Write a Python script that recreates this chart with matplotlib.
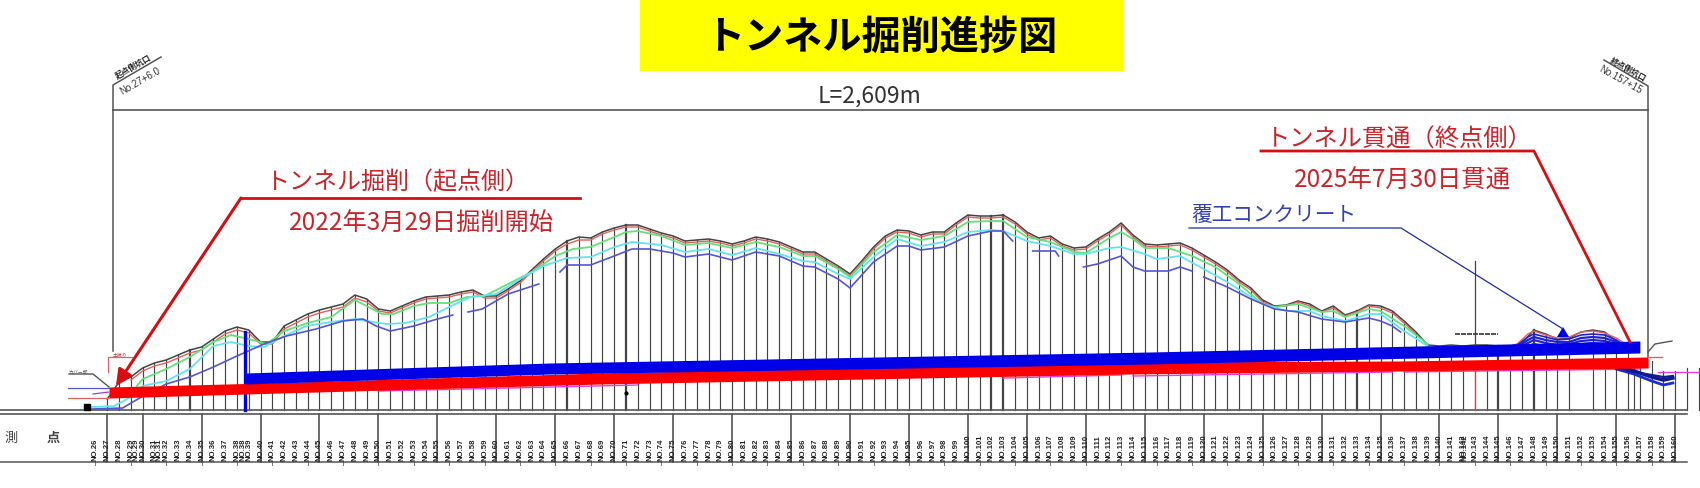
#!/usr/bin/env python3
"""Tunnel excavation progress drawing (long section with station labels)."""

import matplotlib
matplotlib.use("Agg")
import matplotlib.pyplot as plt
from matplotlib.patches import Polygon, Rectangle

plt.rcParams['font.family'] = ['Noto Sans CJK JP', 'DejaVu Sans']

W, H = 1700, 489
# station axis: NO.90 sits at 850 px, one station is 11.79 px
ST_LEFT, ST_RIGHT = 17.9, 162.1

TITLE = "トンネル掘削進捗図"
LENGTH_LABEL = "L=2,609m"
START_TITLE = "トンネル掘削（起点側）"
START_DATE = "2022年3月29日掘削開始"
END_TITLE = "トンネル貫通（終点側）"
END_DATE = "2025年7月30日貫通"
LINING_LABEL = "覆工コンクリート"

# ground surface, one row per station
GROUND_ST = list(range(27, 157))
GROUND = [400, 383, 378, 369, 364, 361, 356, 351, 348, 340, 332, 328, 331, 343,
          343, 327, 321, 315, 311, 308, 305, 296, 300, 310, 312, 307, 302, 298,
          297, 296, 293, 291, 297, 297, 290, 282, 271, 260, 250, 242, 238, 239,
          233, 229, 226, 226, 230, 234, 237, 242, 241, 240, 242, 245, 242, 238,
          240, 243, 248, 253, 253, 260, 267, 275, 262, 248, 237, 231, 232, 236,
          233, 233, 224, 216, 217, 217, 216, 223, 233, 239, 237, 245, 249, 248,
          240, 233, 224, 236, 245, 246, 245, 244, 249, 256, 263, 271, 281, 289,
          301, 307, 306, 302, 305, 312, 307, 316, 312, 306, 307, 312, 322, 333,
          346, 347, 346, 347, 346, 346, 347, 347, 344, 331, 335, 340, 339, 333,
          331, 333, 342, 346]

RED_ST = list(range(29, 139))
RED = [381, 372, 367, 364, 359, 354, 351, 343, 335, 331, 334, 345, 345, 330, 324,
       318, 314, 311, 308, 299, 303, 312, 314, 309, 304, 300, 299, 298, 295, 293,
       299, 299, 292, 284, 273, 262, 252, 245, 241, 241, 235, 231, 228, 228, 232,
       236, 239, 244, 243, 242, 244, 247, 244, 240, 242, 245, 250, 255, 255, 262,
       269, 277, 264, 250, 239, 233, 234, 238, 235, 235, 226, 218, 219, 219, 218,
       225, 235, 241, 239, 247, 251, 250, 242, 235, 226, 238, 247, 248, 247, 246,
       251, 258, 265, 273, 283, 291, 303, 308, 307, 303, 307, 313, 309, 317, 313,
       307, 309, 314, 324, 335]

GREEN_ST = [29.5, 30, 32, 34, 36, 37.5, 39, 40.5, 42, 44, 46, 48, 49, 50.3, 51.3, 53,
            54.3, 56, 57.5, 59, 61, 63, 65, 66.5, 68, 70, 71, 72, 74, 76, 78, 80, 82,
            84, 86, 87, 89, 90, 92, 94, 96, 98, 100, 102, 103, 105, 107, 109, 110,
            112, 113, 114, 115, 117, 119, 121, 123, 125, 126, 128, 130, 131, 132,
            134, 135, 137, 139]
GREEN = [387, 380, 370, 358, 343, 336, 340, 345, 332, 324, 318, 301, 307, 315, 315, 307,
         304, 304, 298, 297, 285, 273, 257, 250, 248, 238, 233, 232, 237, 246, 244, 249,
         243, 248, 257, 257, 270, 278, 253, 236, 241, 237, 223, 222, 222, 238, 243, 253,
         254, 239, 233, 240, 249, 249, 257, 268, 285, 305, 308, 305, 313, 312, 318,
         310, 312, 327, 345]

CYAN_ST = [25.7, 27.6, 29, 30, 32, 34, 36, 37.5, 39, 40.3, 42, 43.9, 46, 48, 49, 50.7,
           52.3, 54.3, 56, 57.8, 60, 62, 64, 66, 68, 70, 71.5, 74, 76, 78, 80, 82, 84,
           86, 87, 89, 90, 92, 94, 96, 98, 100, 102, 103, 105, 107, 109, 110, 112,
           113, 115, 116, 118, 120, 122, 124, 125, 127, 129, 130, 132, 134, 135, 137,
           139]
CYAN = [408, 407, 398, 387, 382, 370, 347, 343, 347, 348, 337, 327, 323, 320, 322, 325,
        324, 318, 308, 298, 295, 280, 267, 259, 258, 248, 243, 246, 253, 250, 256, 249,
        255, 262, 263, 275, 280, 258, 240, 247, 243, 233, 231, 232, 242, 247, 255, 255,
        249, 248, 255, 260, 257, 270, 283, 298, 305, 312, 312, 317, 322, 315, 315,
        332, 347]

# the lower contour is broken into separate pieces
PURPLE_SEGMENTS = [
    ([25.7, 28.3, 29.6, 32, 34, 36, 38, 40.3, 42.2, 44.7, 47, 48.7, 49.8, 51, 53, 55, 56.3],
     [410, 409, 400, 385, 378, 368, 357, 345, 337, 330, 322, 320, 327, 332, 327, 320, 316]),
    ([57.6, 58.8, 61, 63.6],
     [313, 310, 295, 285]),
    ([65.4, 66, 68, 70, 71.5, 73, 75, 76, 78, 80, 82, 84, 86, 87, 89, 90, 92, 94, 95, 96,
      98, 100, 102, 103, 103.8],
     [273, 266, 266, 257, 250, 250, 254, 258, 255, 261, 253, 257, 267, 268, 280, 289, 263,
      247, 247, 251, 248, 237, 232, 232, 242]),
    ([105.5, 107.4, 107.7],
     [252, 252, 257]),
    ([109.8, 111, 113, 114, 115, 117, 118, 119],
     [268, 265, 257, 268, 272, 272, 268, 272]),
    ([120, 122, 124, 126, 128, 130, 132, 134, 135, 136, 136.7],
     [278, 288, 300, 310, 313, 320, 323, 319, 322, 327, 333]),
]

# hill contours near the end portal
HILL_ST = [146.5, 147.5, 148, 149, 150, 151, 152, 153, 154, 155, 155.8]
HILL_RED = [346, 335, 332, 336, 339, 338, 333, 332, 334, 339, 345]
HILL_BLUE_1 = [347, 338, 335, 338, 341, 340, 336, 335, 336, 341, 347]
HILL_BLUE_2 = [349, 341, 338, 341, 343, 343, 339, 338, 339, 343, 349]
HILL_BLUE_3 = [350, 344, 341, 344, 346, 345, 342, 341, 342, 345, 350]
HILL_BLUE_4 = [351, 347, 345, 347, 349, 348, 345, 344, 345, 348, 351]

TAIL_ST = [155, 156.5, 158, 159, 159.8]
TAIL_1 = [367, 372, 378, 381, 379]
TAIL_2 = [370, 375, 382, 386, 384]
TAIL_3 = [368, 373, 376, 378, 377]

# concrete and excavation bands: station, top row, bottom row
RED_BAND_ST = [27.15, 38.75, 68.8, 113.75, 136.65, 157.7]
RED_BAND_TOP = [388, 384.5, 374, 363, 362, 358]
RED_BAND_BOT = [399, 395, 385, 375, 372, 369]
BLUE_BAND_ST = [38.75, 64.56, 115.45, 157]
BLUE_BAND_TOP = [374, 364, 353, 342]
BLUE_BAND_BOT = [385, 375, 365, 354]

MAGENTA_SEGMENTS = [
    ([50, 72], [392, 386]),
    ([103, 113], [379, 376]),
    ([114, 136], [377, 373]),
    ([137, 157], [373, 370]),
    ([158.5, 160, 162], [373, 373, 373]),
]

# columns
MISSING_ST = [26, 28.5, 152]
THICK_ST = [34, 66, 71, 102, 103, 133, 145, 148]
LONG_ST = [27, 30, 35, 40] + list(range(45, 161, 5))
TAIL_TOPS = {157: 369, 158: 362, 159: 372, 160: 372, 161: 369, 162: 369, 156.5: 368}

LABEL_ST = list(range(26, 161))
LABELS = [f"NO.{n}" for n in LABEL_ST]
EXTRA_LABEL_ST = [29.4, 31.4, 38.5, 142.2]
EXTRA_LABELS = ["NO.29", "NO.31", "NO.38", "NO.142"]

GRAY = '#555555'
TEXT_RED = '#c8242a'
LINE_RED = '#d40f14'

fig = plt.figure(figsize=(W / 100, H / 100), dpi=100)

# ---- profile in station coordinates, rows downward ----
ax = fig.add_axes([0, 0, 1, 1])
ax.set_xlim(ST_LEFT, ST_RIGHT)
ax.set_ylim(H, 0)
ax.axis('off')

# columns up to the ground line
tops = dict(zip(GROUND_ST, GROUND))
tops.update(TAIL_TOPS)
for st, top in sorted(tops.items()):
    if st in MISSING_ST or st == 143:
        continue
    lw = 1.6 if st in THICK_ST else 0.85
    ax.plot([st, st], [top, 411], color='#444444', lw=lw, zorder=1)
for st in LONG_ST:
    ax.plot([st, st], [415, 463], color='#444444', lw=1.1, zorder=1)
for st in LABEL_ST[::3]:
    ax.plot([st, st], [463, 465.5], color='#777777', lw=0.7, zorder=1)

# table rules
for y, lw in [(411, 1.2), (415, 1.2), (463, 1.1)]:
    ax.plot([ST_LEFT, 161], [y, y], color=GRAY, lw=lw, zorder=1)

# contours
ax.plot(GROUND_ST, GROUND, color='#444444', lw=1.1, zorder=3)
ax.plot(RED_ST, RED, color='#e2625f', lw=1.0, zorder=3)
ax.plot(GREEN_ST, GREEN, color='#62e27a', lw=1.3, zorder=3)
ax.plot(CYAN_ST, CYAN, color='#62e4ee', lw=1.3, zorder=3)
for seg_st, seg_y in PURPLE_SEGMENTS:
    ax.plot(seg_st, seg_y, color='#5555d6', lw=1.2, zorder=3)

# hills and tail at the end portal
ax.plot(HILL_ST, HILL_RED, color='#e2625f', lw=1.0, zorder=3)
for vals, lw in [(HILL_BLUE_1, 1.2), (HILL_BLUE_2, 1.6), (HILL_BLUE_3, 1.6), (HILL_BLUE_4, 1.6)]:
    ax.plot(HILL_ST, vals, color='#2020d0', lw=lw, zorder=3)
ax.plot(TAIL_ST, TAIL_1, color='#101a8c', lw=2.6, zorder=3)
ax.plot(TAIL_ST, TAIL_2, color='#1a2ad8', lw=2.0, zorder=3)
ax.plot(TAIL_ST, TAIL_3, color='#101a8c', lw=1.6, zorder=3)

for seg_st, seg_y in MAGENTA_SEGMENTS:
    ax.plot(seg_st, seg_y, color='#e33fe3', lw=1.0, zorder=2)

# bands
ax.fill_between(RED_BAND_ST, RED_BAND_TOP, RED_BAND_BOT, color='#fa0000', lw=0, zorder=5)
ax.fill_between(BLUE_BAND_ST, BLUE_BAND_TOP, BLUE_BAND_BOT, color='#0000e6', lw=0, zorder=6)
ax.plot([38.7, 38.7], [333, 411], color='#0000e6', lw=2.4, zorder=4)

# tall marker near NO.143
ax.plot([143, 143], [262, 345], color='#444444', lw=0.9, zorder=2)
ax.plot([143, 143], [372, 411], color='#ee3333', lw=1.0, zorder=2)
ax.plot([141.3, 145], [335, 335], color='#333333', lw=1.2, ls=(0, (3, 0.6)), zorder=2)
ax.plot([71], [394], 'o', color='black', ms=2, zorder=4)

# station labels
for st, lab in zip(LABEL_ST, LABELS):
    ax.text(st, 461, lab, rotation=90, ha='center', va='bottom', fontsize=5.6, fontweight='bold',
            family='Liberation Sans', color='#222222', zorder=7)
for st, lab in zip(EXTRA_LABEL_ST, EXTRA_LABELS):
    ax.text(st, 461, lab, rotation=90, ha='center', va='bottom', fontsize=5.6, fontweight='bold',
            family='Liberation Sans', color='#222222', zorder=7)

# ---- annotations in pixel coordinates ----
ov = fig.add_axes([0, 0, 1, 1], facecolor='none')
ov.set_xlim(0, W)
ov.set_ylim(H, 0)
ov.axis('off')

ov.add_patch(Rectangle((640, 0), 483, 72, facecolor='#ffff00', edgecolor='none'))
ov.text(881, 37, TITLE, ha='center', va='center', fontsize=28.2, fontweight='bold', color='black')

# portals and overall length
ov.plot([113, 113, 161], [352, 86, 58], color=GRAY, lw=1.1)
ov.plot([1648, 1648, 1604], [358, 87, 61], color=GRAY, lw=1.1)
ov.plot([113, 1648], [111, 111], color=GRAY, lw=1.2)
ov.text(133, 67, "起点側坑口", rotation=30, ha='center', va='center', fontsize=5.8,
        fontweight='bold', color='#222222')
ov.text(140, 81, "No.27+6.0", rotation=30, ha='center', va='center', fontsize=7, color='#333333',
        family='Liberation Sans')
ov.text(1628, 70, "終点側坑口", rotation=-29, ha='center', va='center', fontsize=5.8,
        fontweight='bold', color='#222222')
ov.text(1620, 80, "No.157+15", rotation=-29, ha='center', va='center', fontsize=7, color='#333333',
        family='Liberation Sans')
ov.text(870, 96, LENGTH_LABEL, ha='center', va='center', fontsize=16.5, color='#333333')

# start side callout
ov.text(397, 182, START_TITLE, ha='center', va='center', fontsize=17.3, color=TEXT_RED)
ov.text(421, 224, START_DATE, ha='center', va='center', fontsize=17.5, color=TEXT_RED)
ov.plot([580, 241], [199, 199], color=LINE_RED, lw=2)
ov.annotate('', xy=(116, 387), xytext=(241, 199),
            arrowprops=dict(arrowstyle='-|>', color=LINE_RED, lw=2.2, mutation_scale=24,
                            shrinkA=0, shrinkB=0))

# end side callout
ov.text(1399, 140, END_TITLE, ha='center', va='center', fontsize=17.5, color=TEXT_RED)
ov.text(1402, 181, END_DATE, ha='center', va='center', fontsize=17.6, color=TEXT_RED)
ov.plot([1261, 1534, 1630], [152, 152, 343], color=LINE_RED, lw=2, zorder=5)

# lining callout
ov.text(1274, 215, LINING_LABEL, ha='center', va='center', fontsize=14.9, color='#3340b5')
ov.plot([1189, 1401, 1563], [229, 229, 330], color='#1f2c9c', lw=0.9)
ov.add_patch(Polygon([(1563, 328), (1557, 338), (1569, 338)], closed=True, facecolor='#0000e6',
                     edgecolor='none'))

# small details at the start portal
ov.plot([69, 93, 109], [375, 375, 388], color='#555555', lw=1)
ov.plot([68, 109], [389, 389], color='#5555d6', lw=0.9)
ov.plot([93, 109], [395, 393], color='#a040d0', lw=0.9)
ov.plot([68, 109], [399, 399], color='#e2625f', lw=0.9)
ov.plot([108, 108, 132], [373, 358, 358], color='#e2625f', lw=0.9)
ov.text(120, 355, "土被り", fontsize=3.5, color='#cc3333', ha='center', va='center')
ov.text(78, 372, "カバー部", fontsize=3.5, color='#555555', ha='center', va='center')
ov.plot([87], [408], 's', color='black', ms=4)
ov.plot([1648, 1655, 1672], [353, 345, 342], color='#555555', lw=1)
ov.plot([1648, 1662], [358, 358], color='#e2625f', lw=1)

# table heading
ov.text(11, 438, "測", ha='center', va='center', fontsize=9.5, color='#444444')
ov.text(53, 438, "点", ha='center', va='center', fontsize=9.5, fontweight='bold', color='#444444')

fig.savefig("out.png", dpi=100)
plt.close(fig)
